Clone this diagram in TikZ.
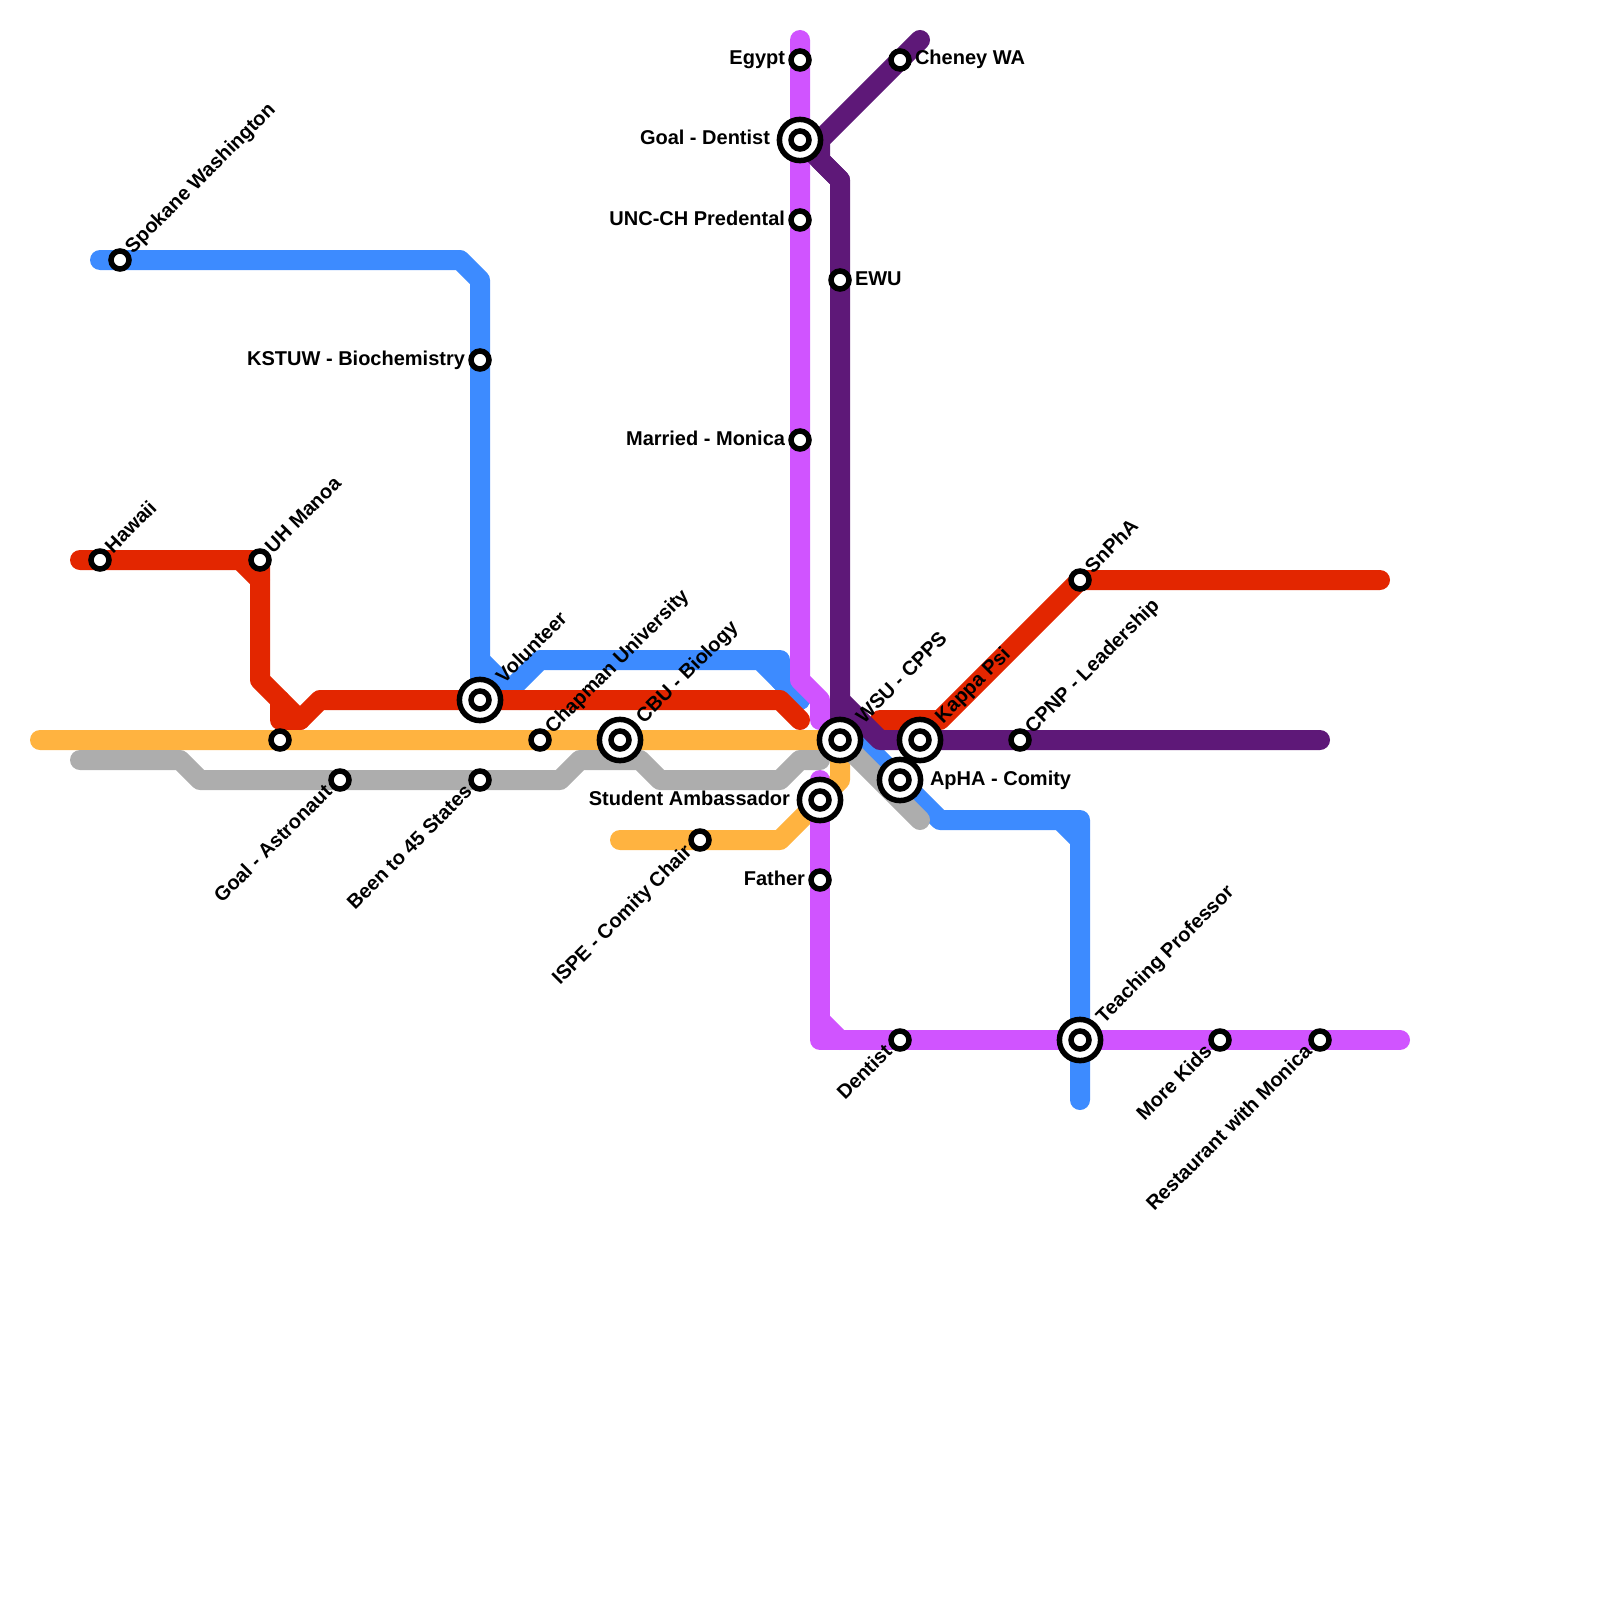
\documentclass[tikz,border=0pt]{standalone}
\usepackage{fontspec}
\setmainfont{Liberation Sans}
\usetikzlibrary{backgrounds,calc}
\definecolor{lineblue}{RGB}{61,139,255}
\definecolor{linered}{RGB}{227,38,0}
\definecolor{lineorange}{RGB}{255,179,64}
\definecolor{linegray}{RGB}{173,173,173}
\definecolor{linepink}{RGB}{208,84,255}
\definecolor{linepurple}{RGB}{94,24,120}
\tikzset{
	route/.style={line width=10pt,line cap=round,line join=round},
	stn/.style={circle,draw=black,fill=white,line width=2.75pt,minimum size=9pt,inner sep=0pt,outer sep=0pt},
	bigstn/.style={circle,draw=black,fill=white,line width=2.75pt,minimum size=20.6pt,inner sep=0pt,outer sep=0pt},
	lab/.style={font=\bfseries\fontsize{10pt}{12pt}\selectfont,inner sep=0pt,outer sep=0pt},
	labl/.style={lab,anchor=base east},
	labr/.style={lab,anchor=base west},
	labup/.style={lab,anchor=base west,rotate=45},
	labdn/.style={lab,anchor=base east,rotate=45}
}
\begin{document}
\begin{tikzpicture}[x=10pt,y=-10pt]
	\useasboundingbox (0,0) rectangle (80,80);
	% stations
	\node[stn] (spokane) at (6,13) {};
	\node[stn] (kstuw) at (24,18) {};
	\node[bigstn] (volunteer) at (24,35) {};
	\node[stn] (volunteerin) at (24,35) {};
	\node[stn] (hawaii) at (5,28) {};
	\node[stn] (uhmanoa) at (13,28) {};
	\node[stn] (plain) at (14,37) {};
	\node[stn] (astronaut) at (17,39) {};
	\node[stn] (states) at (24,39) {};
	\node[stn] (chapman) at (27,37) {};
	\node[bigstn] (cbu) at (31,37) {};
	\node[stn] (cbuin) at (31,37) {};
	\node[stn] (egypt) at (40,3) {};
	\node[bigstn] (dentistgoal) at (40,7) {};
	\node[stn] (dentistgoalin) at (40,7) {};
	\node[stn] (unc) at (40,11) {};
	\node[stn] (married) at (40,22) {};
	\node[stn] (cheney) at (45,3) {};
	\node[stn] (ewu) at (42,14) {};
	\node[bigstn] (wsu) at (42,37) {};
	\node[stn] (wsuin) at (42,37) {};
	\node[bigstn] (kappa) at (46,37) {};
	\node[stn] (kappain) at (46,37) {};
	\node[bigstn] (apha) at (45,39) {};
	\node[stn] (aphain) at (45,39) {};
	\node[bigstn] (ambassador) at (41,40) {};
	\node[stn] (ambassadorin) at (41,40) {};
	\node[stn] (father) at (41,44) {};
	\node[stn] (ispe) at (35,42) {};
	\node[stn] (snpha) at (54,29) {};
	\node[stn] (cpnp) at (51,37) {};
	\node[bigstn] (teaching) at (54,52) {};
	\node[stn] (teachingin) at (54,52) {};
	\node[stn] (dentist) at (45,52) {};
	\node[stn] (kids) at (61,52) {};
	\node[stn] (restaurant) at (66,52) {};
	% labels
	\node[labup] (spokanelab) at ($(spokane)+(.65,-.3)$) {Spokane Washington};
	\node[labl] (kstuwlab) at ($(kstuw)+(-.75,.25)$) {KSTUW - Biochemistry};
	\node[labup] (volunteerlab) at ($(volunteer)+(1.2,-.8)$) {Volunteer};
	\node[labup] (hawaiilab) at ($(hawaii)+(.65,-.3)$) {Hawaii};
	\node[labup] (uhmanoalab) at ($(uhmanoa)+(.65,-.3)$) {UH Manoa};
	\node[labdn] (astronautlab) at ($(astronaut)+(-.35,.65)$) {Goal - Astronaut};
	\node[labdn] (stateslab) at ($(states)+(-.35,.65)$) {Been to 45 States};
	\node[labup] (chapmanlab) at ($(chapman)+(.65,-.3)$) {Chapman University};
	\node[labup] (cbulab) at ($(cbu)+(1.2,-.8)$) {CBU - Biology};
	\node[labl] (egyptlab) at ($(egypt)+(-.75,.25)$) {Egypt};
	\node[labl] (dentistgoallab) at ($(dentistgoal)+(-1.5,.25)$) {Goal - Dentist};
	\node[labl] (unclab) at ($(unc)+(-.75,.25)$) {UNC-CH Predental};
	\node[labl] (marriedlab) at ($(married)+(-.75,.25)$) {Married - Monica};
	\node[labr] (cheneylab) at ($(cheney)+(.75,.25)$) {Cheney WA};
	\node[labr] (ewulab) at ($(ewu)+(.75,.25)$) {EWU};
	\node[labup] (wsulab) at ($(wsu)+(1.2,-.8)$) {WSU - CPPS};
	\node[labup] (kappalab) at ($(kappa)+(1.15,-.8)$) {Kappa Psi};
	\node[labr] (aphalab) at ($(apha)+(1.5,.25)$) {ApHA - Comity};
	\node[labl] (ambassadorlab) at ($(ambassador)+(-1.5,.25)$) {Student Ambassador};
	\node[labl] (fatherlab) at ($(father)+(-.75,.25)$) {Father};
	\node[labdn] (ispelab) at ($(ispe)+(-.35,.65)$) {ISPE - Comity Chair};
	\node[labup] (snphalab) at ($(snpha)+(.65,-.3)$) {SnPhA};
	\node[labup] (cpnplab) at ($(cpnp)+(.65,-.3)$) {CPNP - Leadership};
	\node[labup] (teachinglab) at ($(teaching)+(1.2,-.8)$) {Teaching Professor};
	\node[labdn] (dentistlab) at ($(dentist)+(-.35,.65)$) {Dentist};
	\node[labdn] (kidslab) at ($(kids)+(-.35,.65)$) {More Kids};
	\node[labdn] (restaurantlab) at ($(restaurant)+(-.35,.65)$) {Restaurant with Monica};
	% bends and line ends
	\coordinate (ba) at (5,13);
	\coordinate (bb) at (23,13);
	\coordinate (bc) at (24,14);
	\coordinate (bd) at (24,33);
	\coordinate (be) at (26,35);
	\coordinate (bee) at (25,35);
	\coordinate (bf) at (27,33);
	\coordinate (bg) at (38,33);
	\coordinate (bh) at (39,33);
	\coordinate (bi) at (39,34);
	\coordinate (bj) at (40,35);
	\coordinate (bk) at (42,36);
	\coordinate (bl) at (47,41);
	\coordinate (bm) at (53,41);
	\coordinate (bn) at (54,41);
	\coordinate (bo) at (54,42);
	\coordinate (bp) at (54,55);
	\coordinate (ra) at (4,28);
	\coordinate (rb) at (12,28);
	\coordinate (rc) at (13,29);
	\coordinate (rd) at (13,34);
	\coordinate (re) at (15,36);
	\coordinate (rf) at (14,35);
	\coordinate (rg) at (14,36);
	\coordinate (rh) at (16,35);
	\coordinate (ri) at (39,35);
	\coordinate (rj) at (40,36);
	\coordinate (rk) at (44,36);
	\coordinate (rl) at (47,36);
	\coordinate (rm) at (69,29);
	\coordinate (oa) at (2,37);
	\coordinate (ob) at (42,39);
	\coordinate (oc) at (39,42);
	\coordinate (od) at (31,42);
	\coordinate (ga) at (4,38);
	\coordinate (gb) at (9,38);
	\coordinate (gc) at (10,39);
	\coordinate (gd) at (28,39);
	\coordinate (ge) at (29,38);
	\coordinate (gf) at (32,38);
	\coordinate (gg) at (33,39);
	\coordinate (gh) at (39,39);
	\coordinate (gi) at (40,38);
	\coordinate (gj) at (41,38);
	\coordinate (gk) at (46,41);
	\coordinate (pa) at (40,2);
	\coordinate (pb) at (40,34);
	\coordinate (pc) at (41,35);
	\coordinate (pd) at (41,36);
	\coordinate (pe) at (41,39);
	\coordinate (pf) at (41,51);
	\coordinate (pg) at (41,52);
	\coordinate (ph) at (42,52);
	\coordinate (pi) at (70,52);
	\coordinate (va) at (46,2);
	\coordinate (vb) at (41,7);
	\coordinate (vc) at (41,8);
	\coordinate (vd) at (42,9);
	\coordinate (ve) at (42,35);
	\coordinate (vf) at (44,37);
	\coordinate (vg) at (66,37);
	% routes
	\begin{scope}[on background layer]
		\draw[route,lineorange] (oa) -- (plain.center) -- (chapman.center) -- (cbu.center) -- (wsu.center) -- (ob) -- (oc) -- (ispe.center) -- (od);
		\draw[route,lineblue] (ba) -- (spokane.center) -- (bb) -- (bc) -- (kstuw.center) -- (volunteer.center);
		\draw[route,lineblue] (bd) -- (be);
		\draw[route,lineblue] (bee) -- (bf) -- (bg) -- (bj);
		\draw[route,lineblue] (bg) -- (bh) -- (bi) -- (bj);
		\draw[route,lineblue] (bk) -- (bl) -- (bm) -- (bn) -- (bp);
		\draw[route,lineblue] (bm) -- (bo);
		\draw[route,linepink] (pa) -- (egypt.center) -- (dentistgoal.center) -- (unc.center) -- (married.center) -- (pb) -- (pc) -- (pd);
		\draw[route,linepink] (pe) -- (ambassador.center) -- (father.center) -- (pg) -- (dentist.center) -- (teaching.center) -- (kids.center) -- (restaurant.center) -- (pi);
		\draw[route,linepink] (pf) -- (ph);
		\draw[route,linegray] (ga) -- (gb) -- (gc) -- (astronaut.center) -- (states.center) -- (gd) -- (ge) -- (gf) -- (gg) -- (gh) -- (gi) -- (gj);
		\draw[route,linegray] (wsu.center) -- (gk);
		\draw[route,linered] (ra) -- (hawaii.center) -- (uhmanoa.center) -- (rd) -- (re) -- (rh) -- (volunteer.center) -- (ri) -- (rj);
		\draw[route,linered] (rb) -- (rc);
		\draw[route,linered] (rf) -- (rg) -- (re);
		\draw[route,linered] (rk) -- (rl) -- (snpha.center) -- (rm);
		\draw[route,linepurple] (va) -- (cheney.center) -- (vb) -- (vc) -- (vd) -- (ewu.center) -- (wsu.center);
		\draw[route,linepurple] (dentistgoal.center) -- (vd);
		\draw[route,linepurple] (ve) -- (vf) -- (kappa.center) -- (cpnp.center) -- (vg);
	\end{scope}
\end{tikzpicture}
\end{document}
